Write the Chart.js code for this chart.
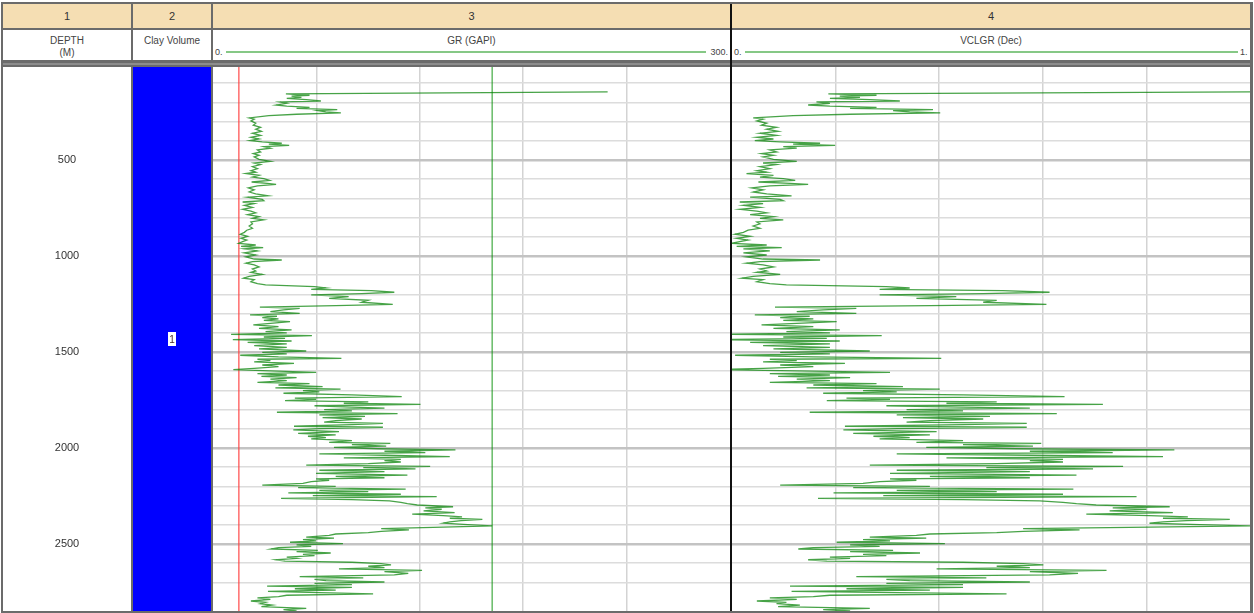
<!DOCTYPE html>
<html><head><meta charset="utf-8"><title>Well log</title>
<script src="https://cdn.jsdelivr.net/npm/chart.js@4/dist/chart.umd.min.js"></script>
<style>
html,body{margin:0;padding:0;background:#fff;}
body{width:1254px;height:613px;position:relative;overflow:hidden;font-family:"Liberation Sans",Arial,sans-serif;color:#333;}
.a{position:absolute;}
.tan{background:#f5deb3;}
.wh{background:#fff;}
.num{font-size:11px;text-align:center;line-height:24px;color:#333;}
.hd{font-size:10px;text-align:center;color:#444;line-height:11px;white-space:nowrap;}
.sc{font-size:9px;color:#444;line-height:10px;white-space:nowrap;}
canvas{position:absolute;display:block;}
</style></head><body>
<div class="a" style="left:1px;top:2px;width:1252px;height:611px;background:#6b6b6b"></div>
<div class="a tan num" style="left:3px;top:4px;width:128px;height:24px">1</div>
<div class="a tan num" style="left:133px;top:4px;width:78px;height:24px">2</div>
<div class="a tan num" style="left:213px;top:4px;width:517px;height:24px">3</div>
<div class="a tan num" style="left:732px;top:4px;width:518px;height:24px">4</div>
<div class="a wh" style="left:3px;top:30px;width:128px;height:30px"></div>
<div class="a wh" style="left:133px;top:30px;width:78px;height:30px"></div>
<div class="a wh" style="left:213px;top:30px;width:517px;height:30px"></div>
<div class="a wh" style="left:732px;top:30px;width:518px;height:30px"></div>
<div class="a" style="left:3px;top:63px;width:1247px;height:2px;background:#8c8c8c"></div>
<div class="a" style="left:730px;top:4px;width:2px;height:607px;background:#111"></div>
<div class="a hd" style="left:3px;top:35px;width:128px;">DEPTH</div>
<div class="a hd" style="left:3px;top:47px;width:128px;">(M)</div>
<div class="a hd" style="left:133px;top:35px;width:78px;">Clay Volume</div>
<div class="a hd" style="left:213px;top:35px;width:517px;">GR (GAPI)</div>
<div class="a hd" style="left:732px;top:35px;width:518px;">VCLGR (Dec)</div>
<div class="a" style="left:226px;top:51px;width:480px;height:2px;background:#86c886"></div>
<div class="a sc" style="left:215px;top:47px;">0.</div>
<div class="a sc" style="left:690px;top:47px;width:38px;text-align:right;">300.</div>
<div class="a" style="left:745px;top:51px;width:493px;height:2px;background:#86c886"></div>
<div class="a sc" style="left:734px;top:47px;">0.</div>
<div class="a sc" style="left:1240px;top:47px;">1.</div>
<canvas id="cDepth" width="128" height="544" style="left:3px;top:67px;background:#fff"></canvas>
<canvas id="cClay" width="78" height="544" style="left:133px;top:67px;background:#fff"></canvas>
<canvas id="cGR" width="517" height="544" style="left:213px;top:67px;background:#fff"></canvas>
<canvas id="cVCL" width="518" height="544" style="left:732px;top:67px;background:#fff"></canvas>
<script>
// ---- data ----
const depthM = [
146,156,163,168,174,179,186,193,198,205,
214,220,226,231,238,243,250,255,262,269,
281,288,297,309,319,330,340,351,361,372,
382,391,399,406,413,418,424,431,439,448,
458,467,476,484,497,507,516,524,535,545,
556,564,571,580,589,597,606,615,622,627,
635,646,656,667,677,687,694,705,712,719,
727,736,747,757,767,776,785,795,804,812,
823,833,844,856,866,877,887,898,908,917,
925,934,943,950,957,963,974,984,995,1005,
1016,1021,1030,1038,1047,1057,1068,1078,1085,1096,
1106,1116,1123,1134,1144,1151,1160,1167,1174,1181,
1189,1196,1203,1212,1221,1231,1241,1252,1259,1266,
1273,1281,1290,1299,1307,1314,1321,1328,1335,1342,
1351,1359,1368,1377,1385,1394,1401,1408,1415,1422,
1429,1436,1443,1450,1458,1467,1476,1484,1495,1502,
1510,1517,1526,1533,1538,1545,1552,1559,1568,1576,
1585,1592,1599,1606,1613,1620,1627,1634,1641,1649,
1658,1665,1672,1681,1687,1694,1701,1708,1715,1724,
1733,1740,1747,1753,1760,1767,1773,1780,1786,1793,
1800,1807,1814,1821,1828,1835,1842,1849,1858,1865,
1872,1878,1887,1892,1899,1906,1915,1924,1932,1939,
1946,1953,1962,1971,1976,1983,1990,1997,2004,2010,
2017,2024,2031,2038,2045,2052,2059,2066,2073,2082,
2089,2096,2102,2109,2116,2123,2132,2141,2148,2155,
2161,2168,2175,2184,2193,2200,2207,2214,2221,2227,
2234,2241,2248,2253,2262,2269,2276,2283,2290,2297,
2306,2312,2319,2328,2337,2345,2352,2359,2366,2372,
2378,2385,2392,2399,2406,2413,2420,2427,2434,2441,
2448,2455,2464,2470,2477,2484,2491,2498,2505,2512,
2519,2526,2533,2540,2547,2554,2561,2568,2575,2582,
2589,2595,2602,2609,2616,2623,2630,2637,2644,2653,
2661,2670,2677,2684,2691,2698,2705,2712,2719,2726,
2733,2740,2747,2753,2760,2767,2774,2781,2788,2797,
2804,2811,2818,2826,2835,2842,2849
];
const grGAPI = [
229,42.3,56.0,45.6,51.3,42.8,54.1,62.6,39.0,42.8,
36.6,42.8,56.0,48.5,72.1,60.8,65.5,74.2,48.5,32.4,
21.0,23.9,22.0,24.8,23.4,27.6,24.8,28.1,22.9,27.6,
22.0,26.7,21.5,28.6,39.9,32.4,44.2,29.5,33.3,25.8,
27.6,23.4,26.7,23.9,26.7,33.3,23.9,27.6,22.9,25.8,
22.0,24.8,19.1,26.7,22.9,29.5,32.8,22.4,31.4,36.6,
25.8,20.5,23.9,21.0,24.8,31.9,20.1,28.6,29.5,17.2,
23.9,18.2,22.9,17.2,22.0,24.8,20.1,26.7,22.9,29.5,
22.0,22.9,21.0,22.9,19.6,18.2,15.8,20.1,16.3,19.6,
17.2,14.9,24.8,16.3,29.1,18.2,25.8,18.2,24.8,19.1,
23.9,39.9,22.9,19.1,23.9,26.7,22.9,24.8,22.0,28.6,
21.0,17.7,23.9,22.0,25.8,30.5,58.9,65.5,57.0,92.0,
105.2,86.3,57.0,78.7,67.4,90.1,86.3,104.3,71.2,27.2,
50.3,40.9,33.3,50.3,21.5,37.1,28.6,38.0,29.5,44.7,
33.3,23.4,38.0,26.7,45.6,30.5,42.8,10.5,57.4,29.5,
41.8,11.5,45.6,20.1,42.8,23.9,42.8,26.7,54.1,28.6,
42.8,15.8,38.0,74.5,25.8,33.3,23.9,47.0,28.6,38.0,
23.9,11.8,33.3,59.8,25.8,42.8,28.1,48.5,33.3,42.8,
25.8,56.0,38.0,63.6,36.2,74.0,52.2,61.7,40.9,80.6,
109.5,47.5,59.8,41.8,90.1,75.9,120.4,58.9,75.9,99.5,
64.5,80.6,37.1,107.1,61.7,88.2,63.6,86.3,71.2,64.5,
98.6,80.6,47.0,98.6,61.7,46.6,73.1,49.4,71.2,55.1,
65.5,57.0,80.6,67.4,102.9,80.6,100.5,70.2,95.8,140.7,
99.5,123.2,61.7,99.5,137.4,75.9,109.0,99.5,109.0,90.1,
54.1,126.0,87.2,117.5,61.7,99.5,59.8,112.8,71.2,99.5,
59.8,67.4,57.0,52.2,28.6,71.2,49.4,111.8,61.7,90.1,
43.7,109.0,57.9,129.8,39.5,80.6,102.4,109.0,112.8,118.5,
139.3,123.2,132.7,122.2,140.2,115.6,133.6,144.5,137.4,156.3,
144.0,137.4,133.6,147.8,162.0,127.9,97.6,113.7,97.6,90.1,
71.2,67.4,54.1,70.2,52.2,59.8,44.7,75.4,48.5,57.0,
38.0,33.8,60.8,48.5,68.3,52.2,58.9,42.8,48.5,36.6,
41.8,80.6,97.6,103.3,90.1,99.5,73.1,121.3,99.5,113.3,
105.2,50.3,87.2,58.9,65.5,99.5,58.9,80.6,31.4,80.6,
47.5,71.2,31.9,61.7,92.9,42.8,38.0,25.8,33.3,22.0,
30.5,27.6,34.3,28.1,54.1,40.9,48.5
];
const vclgrDec = [
1,0.186,0.279,0.208,0.247,0.189,0.266,0.324,0.163,0.189,
0.147,0.189,0.279,0.228,0.388,0.311,0.343,0.402,0.228,0.118,
0.041,0.060,0.048,0.067,0.057,0.086,0.067,0.089,0.054,0.086,
0.048,0.080,0.044,0.093,0.170,0.118,0.199,0.099,0.125,0.073,
0.086,0.057,0.080,0.060,0.080,0.125,0.060,0.086,0.054,0.073,
0.048,0.067,0.028,0.080,0.054,0.099,0.122,0.051,0.112,0.147,
0.073,0.038,0.060,0.041,0.067,0.115,0.035,0.093,0.099,0.015,
0.060,0.022,0.054,0.015,0.048,0.067,0.035,0.080,0.054,0.099,
0.048,0.054,0.041,0.054,0.031,0.022,0.006,0.035,0.009,0.031,
0.015,0.000,0.067,0.009,0.096,0.022,0.073,0.022,0.067,0.028,
0.060,0.170,0.054,0.028,0.060,0.080,0.054,0.067,0.048,0.093,
0.041,0.019,0.060,0.048,0.073,0.105,0.298,0.343,0.285,0.523,
0.613,0.485,0.285,0.433,0.356,0.511,0.485,0.607,0.382,0.083,
0.240,0.176,0.125,0.240,0.044,0.150,0.093,0.157,0.099,0.202,
0.125,0.057,0.157,0.080,0.208,0.105,0.189,-0.030,0.289,0.099,
0.183,-0.023,0.208,0.035,0.189,0.060,0.189,0.080,0.266,0.093,
0.189,0.006,0.157,0.404,0.073,0.125,0.060,0.218,0.093,0.157,
0.060,-0.022,0.125,0.305,0.073,0.189,0.089,0.228,0.125,0.189,
0.073,0.279,0.157,0.330,0.144,0.401,0.253,0.318,0.176,0.446,
0.642,0.221,0.305,0.183,0.511,0.414,0.716,0.298,0.414,0.575,
0.337,0.446,0.150,0.627,0.318,0.498,0.330,0.485,0.382,0.337,
0.569,0.446,0.218,0.569,0.318,0.215,0.395,0.234,0.382,0.273,
0.343,0.285,0.446,0.356,0.597,0.446,0.581,0.375,0.549,0.854,
0.575,0.735,0.318,0.575,0.832,0.414,0.639,0.575,0.639,0.511,
0.266,0.755,0.491,0.697,0.318,0.575,0.305,0.665,0.382,0.575,
0.305,0.356,0.285,0.253,0.093,0.382,0.234,0.659,0.318,0.511,
0.196,0.639,0.292,0.781,0.166,0.446,0.594,0.639,0.665,0.703,
0.845,0.735,0.800,0.729,0.851,0.684,0.806,0.880,0.832,0.961,
0.877,0.832,0.806,0.903,1.000,0.768,0.562,0.671,0.562,0.511,
0.382,0.356,0.266,0.375,0.253,0.305,0.202,0.411,0.228,0.285,
0.157,0.128,0.311,0.228,0.363,0.253,0.298,0.189,0.228,0.147,
0.183,0.446,0.562,0.601,0.511,0.575,0.395,0.723,0.575,0.668,
0.613,0.240,0.491,0.298,0.343,0.575,0.298,0.446,0.112,0.446,
0.221,0.382,0.115,0.318,0.530,0.189,0.157,0.073,0.125,0.048,
0.105,0.086,0.131,0.089,0.266,0.176,0.228
];
const grCutoffs = [15, 162];          // GR clean (red) and GR shale (green) lines
const depthTickLabels = [500, 1000, 1500, 2000, 2500];
const zoneNames = ['1'];
const zoneTops = [0];
const zoneBases = [2900];
const depthMin = 16, depthMax = 2849;

// ---- chart helpers ----
Chart.defaults.animation = false;
const NONE = 'rgba(0,0,0,0)';
function depthAxis(showGrid) {
  return {
    type: 'linear', reverse: true, min: depthMin, max: depthMax, display: true,
    ticks: { display: false, stepSize: 100 },
    border: { display: false },
    grid: {
      display: showGrid, drawTicks: false,
      color: c => { const v = c.tick ? c.tick.value : null; if (v == null || Math.abs(v % 100) > 0.01) return NONE; return (v % 500 === 0) ? '#c3c3c3' : '#dcdcdc'; },
      lineWidth: c => { const v = c.tick ? c.tick.value : null; return (v != null && v % 500 === 0) ? 2.5 : 1.5; }
    }
  };
}
function valueAxis(min, max, step, showGrid) {
  return {
    type: 'linear', min: min, max: max, display: true,
    ticks: { display: false, stepSize: step },
    border: { display: false },
    grid: {
      display: showGrid, drawTicks: false, lineWidth: 1.5,
      color: c => { const v = c.tick ? c.tick.value : null; return (v == null || v <= min + 1e-9 || v >= max - 1e-9) ? NONE : '#d3d3d3'; }
    }
  };
}
const baseOptions = (scales) => ({
  responsive: false, maintainAspectRatio: false, devicePixelRatio: 1, animation: false, events: [],
  layout: { padding: 0 },
  plugins: { legend: { display: false }, tooltip: { enabled: false } },
  scales: scales
});
function curve(xs, color, width) {
  return { data: depthM.map((d, i) => ({ x: xs[i], y: d })), showLine: true, borderColor: color, borderWidth: width,
           pointRadius: 0, tension: 0, clip: 0, order: 1 };
}
function vline(x, color) {
  return { data: [{ x: x, y: depthMin }, { x: x, y: depthMax }], showLine: true, borderColor: color, borderWidth: 1.5,
           pointRadius: 0, clip: 0, order: 2 };
}

// Track 1 : depth labels drawn at the depth scale positions
const depthLabelPlugin = {
  id: 'depthLabels',
  afterDraw(chart) {
    const ctx = chart.ctx, y = chart.scales.y;
    ctx.save();
    ctx.font = '11px "Liberation Sans", Arial, sans-serif';
    ctx.fillStyle = '#333';
    ctx.textAlign = 'center';
    ctx.textBaseline = 'middle';
    depthTickLabels.forEach(v => ctx.fillText(String(v), chart.width / 2, y.getPixelForValue(v)));
    ctx.restore();
  }
};
new Chart(document.getElementById('cDepth'), {
  type: 'scatter',
  data: { datasets: [] },
  options: baseOptions({ x: Object.assign(valueAxis(0, 1, 1, false), { display: false }), y: depthAxis(false) }),
  plugins: [depthLabelPlugin]
});

// Track 2 : clay volume zone
const zoneLabelPlugin = {
  id: 'zoneLabels',
  afterDatasetsDraw(chart) {
    const ctx = chart.ctx, area = chart.chartArea;
    const meta = chart.getDatasetMeta(0);
    meta.data.forEach((bar, i) => {
      const p = bar.getProps(['x', 'y', 'base'], true);
      const top = Math.max(Math.min(p.y, p.base), area.top);
      const bot = Math.min(Math.max(p.y, p.base), area.bottom);
      const cy = (top + bot) / 2;
      ctx.save();
      ctx.fillStyle = '#fff';
      ctx.fillRect(Math.round(p.x) - 4, Math.round(cy) - 7, 8, 14);
      ctx.fillStyle = '#4a2a2a';
      ctx.font = '10px "Liberation Sans", Arial, sans-serif';
      ctx.textAlign = 'center';
      ctx.textBaseline = 'middle';
      ctx.fillText(zoneNames[i], Math.round(p.x), Math.round(cy) + 1);
      ctx.restore();
    });
  }
};
new Chart(document.getElementById('cClay'), {
  type: 'bar',
  data: { labels: zoneNames, datasets: [{ data: zoneNames.map((n, i) => [zoneTops[i], zoneBases[i]]), backgroundColor: '#0000ff',
          borderWidth: 0, barPercentage: 1, categoryPercentage: 1, clip: 0 }] },
  options: baseOptions({ x: { display: false }, y: Object.assign(depthAxis(false), { display: false }) }),
  plugins: [zoneLabelPlugin]
});

// Track 3 : GR
new Chart(document.getElementById('cGR'), {
  type: 'scatter',
  data: { datasets: [ curve(grGAPI, 'rgba(0,128,0,0.72)', 1.3), vline(grCutoffs[0], 'rgba(255,60,60,0.75)'), vline(grCutoffs[1], 'rgba(0,140,0,0.6)') ] },
  options: baseOptions({ x: valueAxis(0, 300, 60, true), y: depthAxis(true) })
});

// Track 4 : VCLGR
new Chart(document.getElementById('cVCL'), {
  type: 'scatter',
  data: { datasets: [ curve(vclgrDec, 'rgba(0,128,0,0.72)', 1.3) ] },
  options: baseOptions({ x: valueAxis(0, 1, 0.2, true), y: depthAxis(true) })
});
</script>
</body></html>
